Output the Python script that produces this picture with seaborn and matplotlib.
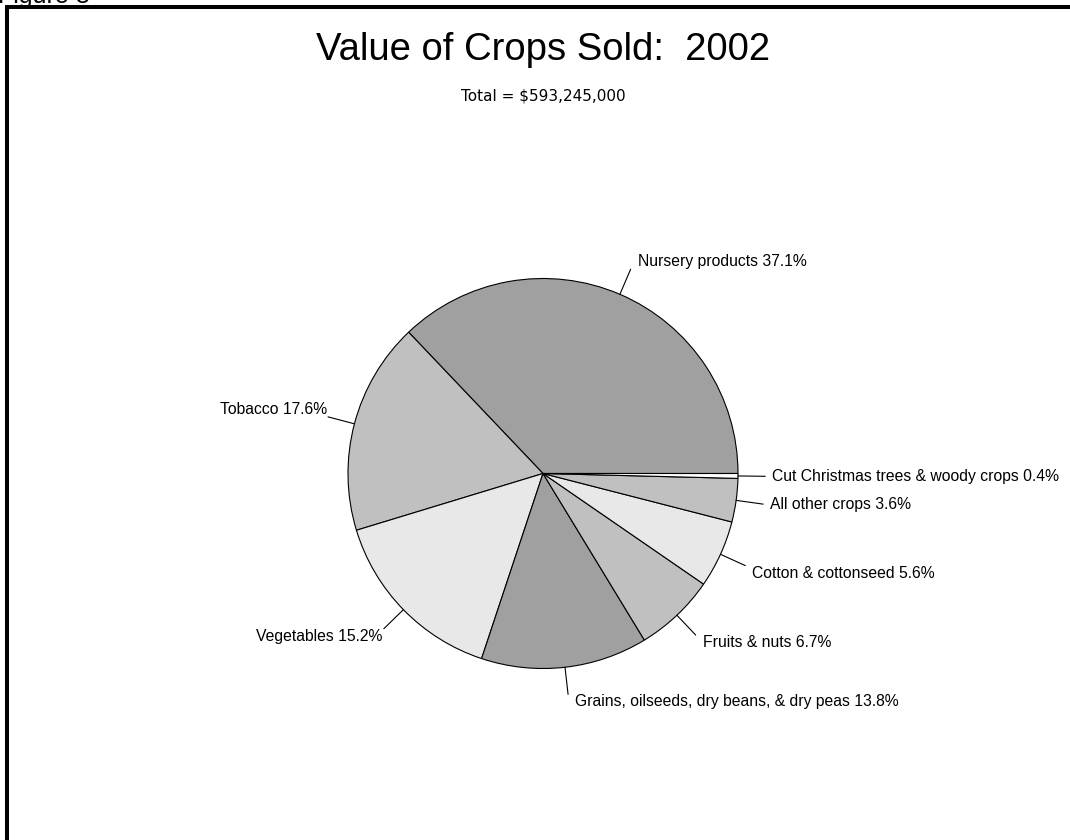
import numpy as np
import matplotlib

matplotlib.use("Agg")

import seaborn as sns
from matplotlib import pyplot as plt
from matplotlib.lines import Line2D

# data
categories = [
    "Nursery products",
    "Tobacco",
    "Vegetables",
    "Grains, oilseeds, dry beans, & dry peas",
    "Fruits & nuts",
    "Cotton & cottonseed",
    "All other crops",
    "Cut Christmas trees & woody crops",
]
shares = [37.1, 17.6, 15.2, 13.8, 6.7, 5.6, 3.6, 0.4]
slice_colors = [
    "#a0a0a0",
    "#c0c0c0",
    "#e8e8e8",
    "#a0a0a0",
    "#c0c0c0",
    "#e8e8e8",
    "#c0c0c0",
    "#ffffff",
]
title = "Value of Crops Sold:  2002"
subtitle = "Total = $593,245,000"

sns.set_theme(style="white")
plt.rcParams["font.family"] = ["Liberation Sans", "DejaVu Sans"]
plt.rcParams["text.color"] = "black"

W, H, DPI = 1070, 840, 100
fig = plt.figure(figsize=(W / DPI, H / DPI), dpi=DPI, facecolor="white")

# pie geometry in pixels
cx, cy, rad = 543, 473.5, 195
ax = fig.add_axes([0, 0, 1, 1])

wedges, _ = ax.pie(
    shares,
    colors=slice_colors,
    startangle=0,
    counterclock=True,
    radius=1.0,
    wedgeprops=dict(edgecolor="black", linewidth=0.8),
)
ax.set_xlim(-cx / rad, (W - cx) / rad)
ax.set_ylim(-(H - cy) / rad, cy / rad)
ax.set_aspect("equal", adjustable="box")
ax.axis("off")

# leader lines and labels
for w, name, pct in zip(wedges, categories, shares):
    ang = np.deg2rad((w.theta1 + w.theta2) / 2)
    c, s = np.cos(ang), np.sin(ang)
    x1, y1 = c * 1.14, s * 1.14
    ax.plot([c * 1.0, x1], [s * 1.0, y1], color="black", lw=0.8)
    ha = "left" if c > 0 else "right"
    if s > 0.2:
        va = "bottom"
    elif s < -0.2:
        va = "top"
    else:
        va = "center"
    dx = 5 if c > 0 else -1
    ax.annotate(
        f"{name} {pct:.1f}%",
        xy=(x1, y1),
        xytext=(dx, 0),
        textcoords="offset points",
        ha=ha,
        va=va,
        fontsize=11.3,
        color="black",
    )

fig.text(cx / W, 1 - 50 / H, title, ha="center", va="center", fontsize=27.5)
fig.text(
    cx / W, 1 - 96 / H, subtitle, ha="center", va="center", fontsize=11,
    family=["DejaVu Sans"],
)

# partly clipped caption and the frame around the page
fig.text(-0.002, 1 - 3 / H, "Figure 3", ha="left", va="baseline", fontsize=18)
fig.add_artist(
    Line2D(
        [7 / W, 7 / W, 1.0],
        [0.0, 1 - 6.7 / H, 1 - 6.7 / H],
        transform=fig.transFigure,
        color="black",
        lw=2.9,
        solid_joinstyle="miter",
    )
)

fig.savefig("out.png", dpi=DPI, facecolor="white")
